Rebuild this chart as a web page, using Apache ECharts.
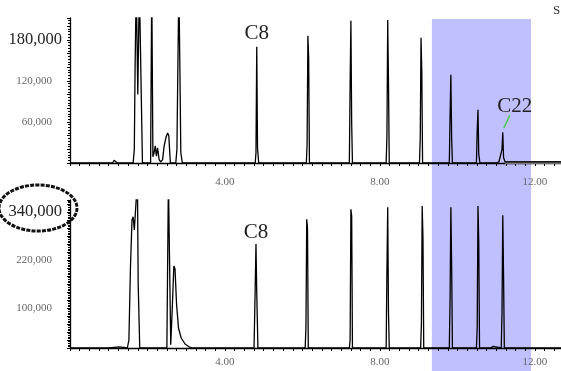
<!DOCTYPE html>
<html><head><meta charset="utf-8">
<script src="https://cdn.jsdelivr.net/npm/echarts@6/dist/echarts.min.js"></script>
<style>html,body{margin:0;padding:0;background:#fff}#c{width:561px;height:371px}</style>
</head><body><div id="c"></div><script>
// ---- data ----
const xTickLabels = [4, 8, 12];           // minutes
const topTickLabels = [60000, 120000, 180000];
const topBigLabel = 180000;
const bottomTickLabels = [100000, 220000, 340000];
const bottomBigLabel = 340000;
const highlightBand = [9.34, 11.9];       // minutes
// [time (min), abundance]
const topSignal = [
  [0,0],[1.10,0],[1.14,4000],[1.18,4500],[1.22,0],
  [1.63,0],[1.66,20000],[1.68,140000],[1.71,260000],[1.75,100000],[1.79,260000],[1.83,260000],[1.87,0],
  [2.08,0],[2.11,260000],[2.14,9000],[2.17,15000],[2.20,25000],[2.23,10000],[2.26,22000],[2.30,5000],[2.34,1500],
  [2.39,5000],[2.43,25000],[2.48,38000],[2.52,44000],[2.55,40000],[2.59,0],
  [2.73,0],[2.76,20000],[2.78,121000],[2.81,260000],[2.84,120000],[2.86,15000],[2.90,0],
  [3.05,0],[3.07,1500],[3.09,0],
  [4.78,0],[4.80,15000],[4.82,170000],[4.84,22000],[4.87,0],
  [6.10,0],[6.12,29000],[6.14,186000],[6.16,154000],[6.18,0],
  [7.21,0],[7.23,117000],[7.25,208000],[7.27,58000],[7.29,0],
  [8.16,0],[8.18,40000],[8.20,209000],[8.22,119000],[8.24,0],
  [9.02,0],[9.04,37000],[9.06,183000],[9.08,133000],[9.10,0],
  [9.79,0],[9.81,70000],[9.83,129000],[9.85,37000],[9.87,0],
  [10.49,0],[10.51,48000],[10.53,78000],[10.55,13000],[10.58,0],
  [11.00,0],[11.07,1500],[11.12,1500],[11.15,20000],[11.17,45000],[11.19,8000],[11.23,1500],[12.75,1500]
];
const topTail = [[11.23,700],[12.75,700]];
const bottomSignal = [
  [0,0],[1.00,0],[1.02,3000],[1.27,3000],[1.30,0],
  [1.48,0],[1.52,20000],[1.56,200000],[1.60,320000],[1.63,328000],[1.66,295000],[1.69,300000],[1.74,420000],[1.76,160000],[1.80,0],
  [2.50,0],[2.54,420000],[2.60,8000],[2.64,100000],[2.68,205000],[2.71,198000],[2.75,110000],[2.80,50000],
  [2.87,25000],[2.97,10000],[3.07,3000],[3.17,0],
  [4.75,0],[4.78,150000],[4.80,260000],[4.82,138000],[4.85,0],
  [6.07,0],[6.09,53000],[6.11,322000],[6.13,300000],[6.15,0],
  [7.21,0],[7.23,20000],[7.25,347000],[7.27,330000],[7.29,0],
  [8.16,0],[8.18,195000],[8.20,352000],[8.22,90000],[8.24,0],
  [9.05,0],[9.07,62000],[9.09,355000],[9.11,275000],[9.13,0],
  [9.79,0],[9.81,125000],[9.83,352000],[9.85,207000],[9.87,0],
  [10.49,0],[10.51,53000],[10.53,355000],[10.55,265000],[10.57,0],
  [10.86,0],[10.88,4000],[10.92,4000],[10.94,0],
  [11.13,0],[11.15,90000],[11.17,332000],[11.19,182000],[11.21,0],
  [12.75,0]
];
const peakNotes = [
  {text:'C8', panel:0, at:[4.82,170000]},
  {text:'C8', panel:1, at:[4.80,260000]},
  {text:'C22', panel:0, at:[11.17,45000]}
];

const serif = '"Liberation Serif","DejaVu Serif",serif';
function fmtNum(v){ return v.toLocaleString('en-US'); }
function xAxisCfg(gi, margin){
  return {
    type:'value', gridIndex:gi, min:0, max:12.75, interval:0.25,
    axisLine:{show:true, onZero:false, lineStyle:{color:'#000', width:1.3}},
    axisTick:{show:true, length:3, lineStyle:{color:'#000'}},
    splitLine:{show:false},
    axisLabel:{margin:margin, color:'#666', fontFamily:serif, fontSize:11,
      formatter:v=> xTickLabels.some(t=>Math.abs(t-v)<1e-6) ? v.toFixed(2) : ''}
  };
}
function yAxisCfg(gi, max, ticks, big){
  return {
    type:'value', gridIndex:gi, min:0, max:max, interval:20000,
    axisLine:{show:true, lineStyle:{color:'#000', width:1.3}},
    axisTick:{show:true, length:3, lineStyle:{color:'#000'}},
    minorTick:{show:true, splitNumber:5, length:2, lineStyle:{color:'#000'}},
    splitLine:{show:false},
    axisLabel:{margin:8, fontFamily:serif, showMaxLabel:false,
      formatter:v=> v===big ? '{b|'+fmtNum(v)+'}' : (ticks.includes(v) ? '{s|'+fmtNum(v)+'}' : ''),
      rich:{
        b:{fontSize:16.5, color:'#222', fontFamily:serif},
        s:{fontSize:11, color:'#666', fontFamily:serif, padding:[0,10,0,0]}
      }}
  };
}
const chart = echarts.init(document.getElementById('c'), null, {renderer:'canvas'});
chart.setOption({
  animation:false,
  backgroundColor:'#fff',
  grid:[
    {left:70, right:-3, top:18, height:145, containLabel:false, outerBoundsMode:'none'},
    {left:70, right:-3, top:200, height:148, containLabel:false, outerBoundsMode:'none'}
  ],
  xAxis:[xAxisCfg(0,14), xAxisCfg(1,9)],
  yAxis:[yAxisCfg(0,212000,topTickLabels,topBigLabel), yAxisCfg(1,370000,bottomTickLabels,bottomBigLabel)],
  series:[
    {type:'line', xAxisIndex:0, yAxisIndex:0, data:topSignal, showSymbol:false, clip:true,
      lineStyle:{color:'#000', width:1.3}, z:5},
    {type:'line', xAxisIndex:0, yAxisIndex:0, data:topTail, showSymbol:false, clip:true,
      lineStyle:{color:'#777', width:3}, z:4},
    {type:'line', xAxisIndex:1, yAxisIndex:1, data:bottomSignal, showSymbol:false, clip:true,
      lineStyle:{color:'#000', width:1.3}, z:5}
  ]
});
// annotation overlays positioned through the chart's own scales
const bx0 = chart.convertToPixel({xAxisIndex:0}, highlightBand[0]);
const bx1 = chart.convertToPixel({xAxisIndex:0}, highlightBand[1]);
const gTop = chart.convertToPixel({yAxisIndex:0}, 212000);
const g = [{
  type:'rect', z:-1, shape:{x:bx0, y:gTop+1, width:bx1-bx0, height:371-gTop},
  style:{fill:'rgba(168,168,255,0.72)'}
}];
peakNotes.forEach(n=>{
  const p = chart.convertToPixel({gridIndex:n.panel}, n.at);
  if(n.text==='C22'){
    g.push({type:'text', z:20, style:{text:n.text, x:p[0]+12, y:p[1]-26, align:'center', verticalAlign:'middle',
      font:'21px '+serif, fill:'#222'}});
    g.push({type:'line', z:20, shape:{x1:p[0]+7, y1:p[1]-17, x2:p[0]+1, y2:p[1]-4},
      style:{stroke:'#44cc44', lineWidth:1.5}});
  } else {
    g.push({type:'text', z:20, style:{text:n.text, x:p[0], y:p[1]-(n.panel===0?13:12), align:'center', verticalAlign:'middle',
      font:'21px '+serif, fill:'#222'}});
  }
});
g.push({type:'text', z:20, style:{text:'S', x:553, y:4, font:'13px '+serif, fill:'#333'}});
g.push({type:'ellipse', z:20, shape:{cx:38, cy:208, rx:39, ry:23},
  style:{fill:'none', stroke:'#111', lineWidth:3, lineDash:[4,1.2]}});
chart.setOption({graphic:g});
</script></body></html>
